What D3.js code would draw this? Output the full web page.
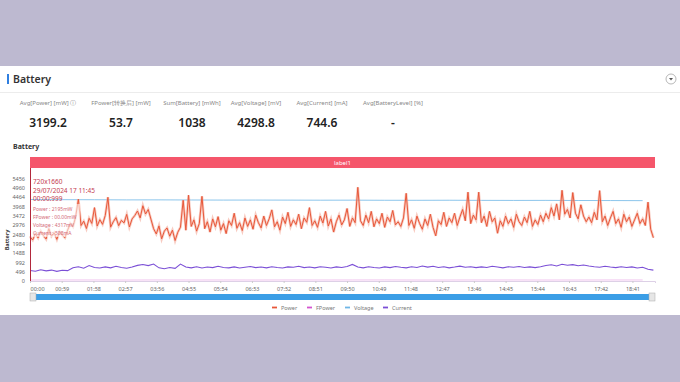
<!DOCTYPE html>
<html><head><meta charset="utf-8">
<script src="https://cdn.jsdelivr.net/npm/d3@7"></script>
<style>
html,body{margin:0;padding:0;background:#bdb9d0;}
svg{display:block;font-family:"Noto Sans","Open Sans",sans-serif;}
</style></head>
<body><svg id="c" width="680" height="382"></svg>
<script>
// ---- data ----
const statLabels = ["Avg[Power] [mW]", "FPower[转换后] [mW]", "Sum[Battery] [mWh]", "Avg[Voltage] [mV]", "Avg[Current] [mA]", "Avg[BatteryLevel] [%]"];
const statValues = ["3199.2", "53.7", "1038", "4298.8", "744.6", "-"];
const seriesNames = ["Power", "FPower", "Voltage", "Current"];
const yTicks = [0, 496, 992, 1488, 1984, 2480, 2976, 3472, 3968, 4464, 4960, 5456];
const xTicks = [0, 59, 118, 177, 236, 295, 354, 413, 472, 531, 590, 649, 708, 767, 826, 885, 944, 1003, 1062, 1121];
const duration = 1163; // seconds
const powerStep = 5;
const power = [
2350,2180,2520,2290,2650,2410,2230,2780,2380,2560,2210,2620,2440,2300,2700,
3050,2880,3420,4350,2950,3180,2790,3330,3060,3900,2920,3260,3010,3480,4450,2860,3150,3370,2940,3220,3090,3540,2870,3300,
3480,3720,3350,4000,3560,3800,3290,
2780,2500,2930,2240,2650,2820,2380,2700,2150,2590,2860,
4290,2700,
4560,2900,3250,2650,3050,
4500,
2780,3150,2600,3300,2880,3420,2700,3050,2520,3200,2950,3600,2800,3100,2680,3350,2900,3250,2750,3500,
3100,2820,3450,2950,3300,3780,2880,3150,2700,3400,3050,3650,2900,3250,3000,3550,2780,3350,3120,3900,2950,3200,2850,3450,3080,3700,2920,3300,2600,3150,3500,2980,3250,3850,2900,3350,3100,
4980,
3200,2950,3500,3100,3700,2880,3300,3050,3600,2850,3400,3150,3750,2980,
3150,2900,3350,4660,2950,3250,2800,3450,3050,2750,3300,2950,3550,2850,2400,3200,3000,3650,2900,
3350,3100,3600,2950,3400,3800,3200,4720,3050,3500,3250,4720,3100,3450,2900,3700,3150,3350,2540,
3200,2900,3450,3050,3300,2850,3550,3150,2950,3400,3100,3700,2900,3250,3000,3500,3150,
3600,3300,3900,3450,4100,3250,4820,3550,3800,3350,4700,3600,3300,4050,3450,3150,
3400,3100,3650,3250,4800,3150,3450,2950,3350,3700,3050,3300,2850,3550,3150,3400,2900,3250,3600,3050,3300,2950,
4190,2750,2300];
const currentStep = 10;
const current = [
560,520,600,540,580,510,570,550,
700,760,680,820,720,690,750,700,780,720,680,740,
830,880,820,900,
700,650,720,670,900,740,
700,760,690,740,710,780,720,700,750,690,730,770,710,740,700,760,720,690,750,730,780,710,740,700,760,730,690,750,720,770,880,
740,700,760,720,690,750,710,770,730,700,760,720,800,740,780,720,760,700,740,790,730,760,710,750,720,780,740,700,760,730,770,720,750,710,760,
820,860,800,890,840,870,810,850,800,
760,730,780,740,710,760,720,750,690,730,
620,580];
const slowStep = 60;
const voltage = [4330,4322,4318,4310,4312,4305,4300,4302,4298,4294,4296,4290,4288,4292,4285,4282,4284,4278,4275,4270];
const fpower = [52,55,54,51,56,53,54,52,55,53,54,56,52,53,55,54,52,53,55,54];
const tipHead = ["720x1660", "29/07/2024 17 11:45", "00:00:999"];
const tipRows = ["Power : 2195mW", "FPower : 00.00mW", "Voltage : 4317mV", "Current : 508mA"];

// ---- drawing ----
const svg = d3.select("#c");
const colors = {Power:"#e8583a", FPower:"#d455cf", Voltage:"#6fb6e6", Current:"#7b4fd6"};

// card
svg.append("rect").attr("x",0).attr("y",66).attr("width",680).attr("height",249).attr("fill","#fff");
svg.append("rect").attr("x",7).attr("y",74).attr("width",2).attr("height",10).attr("fill","#2f7fe0");
svg.append("text").attr("x",13).attr("y",83).attr("font-size",10.5).attr("font-weight",600).attr("fill","#333").text("Battery");
svg.append("line").attr("x1",0).attr("x2",680).attr("y1",92.5).attr("y2",92.5).attr("stroke","#ececec");
svg.append("circle").attr("cx",671).attr("cy",79).attr("r",5).attr("fill","#fff").attr("stroke","#999").attr("stroke-width",0.7);
svg.append("path").attr("d","M669,78 L673,78 L671,80.5 Z").attr("fill","#555");

// stats
const statX = [48, 121, 192, 256, 322, 393];
statLabels.forEach((l,i)=>{
  svg.append("text").attr("x",statX[i]).attr("y",105).attr("text-anchor","middle")
    .attr("font-size",6).attr("fill","#888").text(l + (i===0?" ⓘ":""));
  svg.append("text").attr("x",statX[i]).attr("y",127).attr("text-anchor","middle")
    .attr("font-size",12).attr("font-weight",600).attr("fill","#222").text(statValues[i]);
});
svg.append("text").attr("x",13).attr("y",149).attr("font-size",7).attr("font-weight",700).attr("fill","#333").text("Battery");

// scales
const x0=30, x1=655, yB=281, yT=169;
const x = d3.scaleLinear().domain([0,duration]).range([x0,x1]);
const y = d3.scaleLinear().domain([0,5952]).range([yB,yT]);

// label band
svg.append("rect").attr("x",x0).attr("y",157).attr("width",x1-x0).attr("height",11).attr("fill","#f5566b");
svg.append("text").attr("x",(x0+x1)/2).attr("y",164.5).attr("text-anchor","middle").attr("font-size",6).attr("fill","#fff").text("label1");

// y axis
const yAx = svg.append("g").attr("transform",`translate(${x0},0)`)
  .call(d3.axisLeft(y).tickValues(yTicks).tickSize(0).tickPadding(5).tickFormat(d3.format("d")));
yAx.select(".domain").remove();
yAx.selectAll("text").attr("font-size",5.5).attr("fill","#666").attr("font-family","Noto Sans");
svg.append("text").attr("transform","translate(9,240) rotate(-90)").attr("text-anchor","middle")
  .attr("font-size",5.5).attr("font-weight",700).attr("fill","#333").text("Battery");

// x axis
const xAx = svg.append("g").attr("transform",`translate(0,${yB})`)
  .call(d3.axisBottom(x).tickValues(xTicks).tickSize(2).tickPadding(4)
  .tickFormat(d=>d3.format("02d")(Math.floor(d/60))+":"+d3.format("02d")(d%60)));
xAx.select(".domain").attr("stroke","#ddd0e6");
xAx.selectAll(".tick line").attr("stroke","#ccc");
xAx.selectAll("text").attr("font-size",5.5).attr("fill","#666").attr("font-family","Noto Sans");
xAx.selectAll(".tick").filter((d,i)=>i===0).select("text").attr("text-anchor","start");

const line = (step)=>d3.line().x((d,i)=>x(Math.min(i*step,duration))).y(d=>y(d));
// voltage
svg.append("path").datum(voltage).attr("d",line(slowStep)).attr("fill","none").attr("stroke",colors.Voltage).attr("stroke-width",0.8);
// fpower
svg.append("path").datum(fpower).attr("d",line(slowStep)).attr("fill","none").attr("stroke",colors.FPower).attr("stroke-width",0.7).attr("opacity",0.5);
// power halo + line
svg.append("path").datum(power).attr("d",line(powerStep)).attr("fill","none").attr("stroke","#f2a08e").attr("stroke-width",2.6).attr("opacity",0.55);
svg.append("path").datum(power).attr("d",line(powerStep)).attr("fill","none").attr("stroke",colors.Power).attr("stroke-width",1);
// current
svg.append("path").datum(current).attr("d",line(currentStep)).attr("fill","none").attr("stroke",colors.Current).attr("stroke-width",1.1);

// marker line
svg.append("line").attr("x1",x0+0.5).attr("x2",x0+0.5).attr("y1",168).attr("y2",yB).attr("stroke","#b2283c").attr("stroke-width",1);

// tooltip
tipHead.forEach((t,i)=>{
  svg.append("text").attr("x",33).attr("y",184+i*8.5).attr("font-size",6.5).attr("fill","#c43c50").text(t);
});
svg.append("rect").attr("x",32).attr("y",204).attr("width",48).attr("height",33).attr("fill","#fff").attr("opacity",0.55);
tipRows.forEach((t,i)=>{
  svg.append("text").attr("x",33).attr("y",211+i*8).attr("font-size",5).attr("fill","#d36a78").text(t);
});

// data zoom
svg.append("rect").attr("x",x0).attr("y",294).attr("width",x1-x0).attr("height",6).attr("fill","#3b9ee6");
[x0, x1-6].forEach(hx=>{
  svg.append("rect").attr("x",hx).attr("y",293).attr("width",6).attr("height",8).attr("fill","#e6e6e6").attr("stroke","#aaa").attr("stroke-width",0.5);
});

// legend
const legX = [272, 307, 345, 383];
seriesNames.forEach((n,i)=>{
  svg.append("line").attr("x1",legX[i]).attr("x2",legX[i]+5).attr("y1",307.5).attr("y2",307.5).attr("stroke",colors[n]).attr("stroke-width",1.8);
  svg.append("text").attr("x",legX[i]+9).attr("y",309.5).attr("font-size",5.5).attr("fill","#777").text(n);
});
</script></body></html>
